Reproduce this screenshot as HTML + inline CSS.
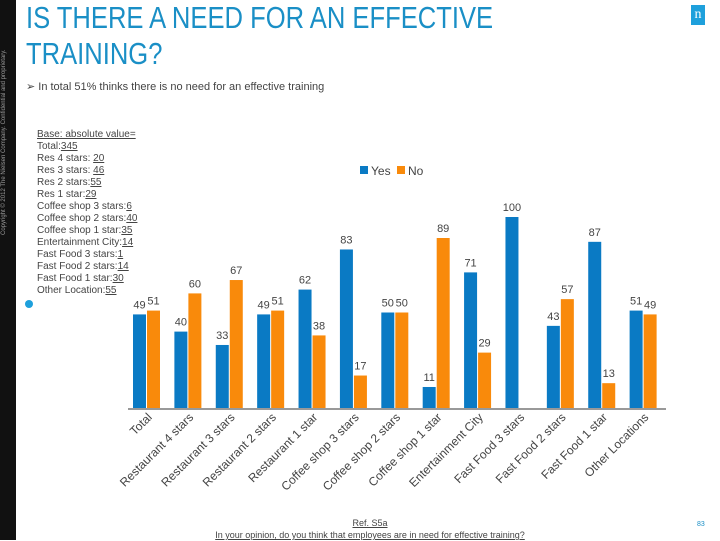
<!DOCTYPE html>
<html><head><meta charset="utf-8"><style>
body{margin:0;width:720px;height:540px;overflow:hidden;background:#fff;font-family:"Liberation Sans",sans-serif;position:relative}
.abs{position:absolute}
.base div{font-size:10px;color:#444;line-height:12px;white-space:nowrap}
u{text-decoration:underline}
</style></head><body>
<div class="abs" style="left:0;top:0;width:16px;height:540px;background:#111"></div>
<div class="abs" style="left:1px;font-size:6px;color:#999;transform:rotate(-90deg);transform-origin:left top;white-space:nowrap;top:235px">Copyright © 2012 The Nielsen Company. Confidential and proprietary.</div>
<div class="abs" style="left:26px;top:0px;font-size:31px;line-height:36px;color:#1a8fc6;transform:scaleX(0.825);transform-origin:left top;white-space:nowrap">IS THERE A NEED FOR AN EFFECTIVE<br>TRAINING?</div>
<div class="abs" style="left:691px;top:5px;width:14px;height:20px;background:#1ea0dc;color:#fff;font-family:'Liberation Serif',serif;font-size:14px;text-align:center;line-height:20px">n</div>
<div class="abs" style="left:26px;top:80px;font-size:11px;color:#444">➢ In total 51% thinks there is no need for an effective training</div>
<div class="abs base" style="left:37px;top:129px">
<div><u>Base: absolute value=</u></div><div>Total:<u>345</u></div><div>Res 4 stars: <u>20</u></div><div>Res 3 stars: <u>46</u></div><div>Res 2 stars:<u>55</u></div><div>Res 1 star:<u>29</u></div><div>Coffee shop 3 stars:<u>6</u></div><div>Coffee shop 2 stars:<u>40</u></div><div>Coffee shop 1 star:<u>35</u></div><div>Entertainment City:<u>14</u></div><div>Fast Food 3 stars:<u>1</u></div><div>Fast Food 2 stars:<u>14</u></div><div>Fast Food 1 star:<u>30</u></div><div>Other Location:<u>55</u></div>
</div>
<div class="abs" style="left:25px;top:300px;width:8px;height:8px;border-radius:50%;background:#1ea0dc"></div>
<svg class="abs" style="left:0;top:0" width="720" height="540" id="chart">
<g>
<rect x="360" y="166" width="8" height="8" fill="#0a7ac4"/>
<text x="371" y="175" font-size="12" fill="#444">Yes</text>
<rect x="397" y="166" width="8" height="8" fill="#f98a0b"/>
<text x="408" y="175" font-size="12" fill="#444">No</text>
</g>
</svg>
<div class="abs" style="left:0;width:740px;top:517px;text-align:center;font-size:9px;color:#444;line-height:12px"><u>Ref. S5a</u><br><u>In your opinion, do you think that employees are in need for effective training?</u></div>
<div class="abs" style="left:697px;top:521px;font-size:7px;color:#1a8fc6">83</div>
<script>
const categories=["Total","Restaurant 4 stars","Restaurant 3 stars","Restaurant 2 stars","Restaurant 1 star","Coffee shop 3 stars","Coffee shop 2 stars","Coffee shop 1 star","Entertainment City","Fast Food 3 stars","Fast Food 2 stars","Fast Food 1 star","Other Locations"];
const yesValues=[49,40,33,49,62,83,50,11,71,100,43,87,51];
const noValues=[51,60,67,51,38,17,50,89,29,0,57,13,49];
const svg=document.getElementById('chart');
const NS='http://www.w3.org/2000/svg';
const x0=128,x1=666,baseY=408,fullH=191;
const gw=(x1-x0)/categories.length;
function yScale(v){return baseY-v/100*fullH;}
function xGroup(i){return x0+i*gw;}
function mk(tag,attrs){const e=document.createElementNS(NS,tag);for(const k in attrs)e.setAttribute(k,attrs[k]);svg.appendChild(e);return e;}
categories.forEach((c,i)=>{
  const gx=xGroup(i);
  [[yesValues[i],'#0a7ac4',5,'yes'],[noValues[i],'#f98a0b',19,'no']].forEach(([v,col,off,s])=>{
    if(v>0){
      const r=mk('rect',{x:gx+off,y:yScale(v),width:13,height:baseY-yScale(v),fill:col});
      
      
      const t=mk('text',{x:gx+off+6.5,y:yScale(v)-6,'font-size':11,fill:'#444','text-anchor':'middle'});
      t.textContent=v;
      
      
    }
  });
  const cx=gx+gw/2+4;
  const t=mk('text',{x:cx,y:418,'font-size':12,fill:'#444','text-anchor':'end',transform:`rotate(-45 ${cx} 418)`});
  t.textContent=c;
  
  
});
const ax=mk('line',{x1:x0,y1:baseY+1,x2:x1,y2:baseY+1,stroke:'#999','stroke-width':2});


</script>
</body></html>
